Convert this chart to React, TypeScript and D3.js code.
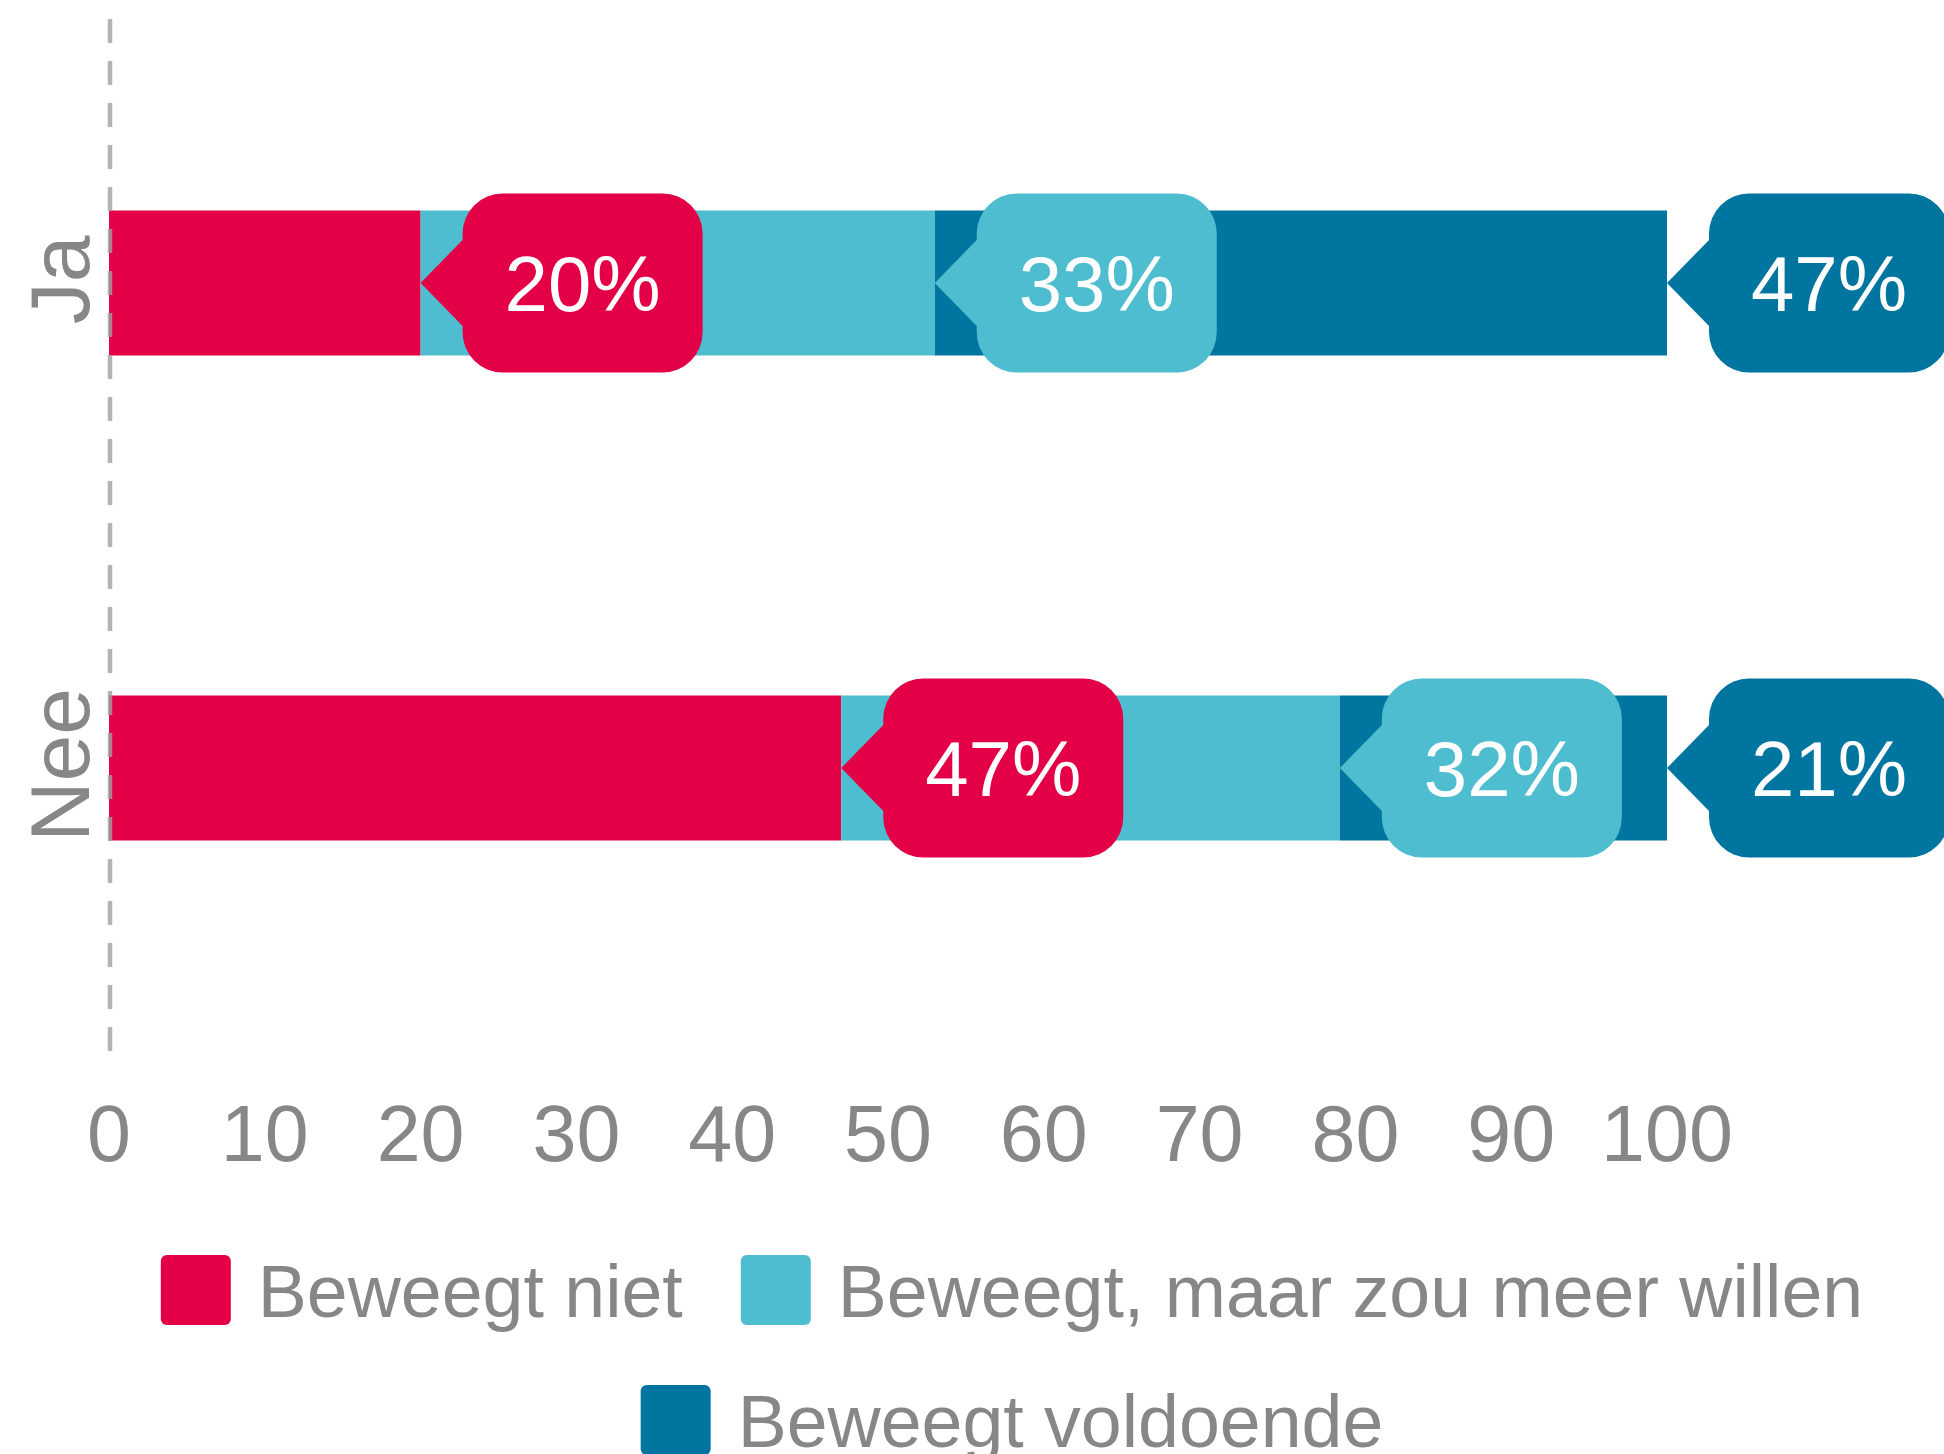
import * as d3 from 'd3';
import React, { useRef, useEffect } from 'react';

const categories = ['Ja', 'Nee'];
const seriesNames = ['Beweegt niet', 'Beweegt, maar zou meer willen', 'Beweegt voldoende'];
const beweegtNiet = [20, 47];
const meerWillen = [33, 32];
const voldoende = [47, 21];
const xTicks = [0, 10, 20, 30, 40, 50, 60, 70, 80, 90, 100];
const colors = ['#E30046', '#4EBDCF', '#0075A0'];

const W = 1944;
const H = 1454;
const FONT = '"Liberation Sans", Arial, sans-serif';

const App = () => {
  const ref = useRef<SVGSVGElement>(null);

  useEffect(() => {
    draw();
  }, []);

  const draw = () => {
    const svg = d3.select(ref.current);
    svg.selectAll('*').remove();

    const keys = ['niet', 'meer', 'vold'];
    const rows = categories.map((c, i) => ({
      cat: c,
      niet: beweegtNiet[i],
      meer: meerWillen[i],
      vold: voldoende[i],
    }));
    const stacked = d3.stack<any>().keys(keys)(rows);

    // scales
    const xScale = d3.scaleLinear().domain([0, 100]).range([109, 1667]);
    const yScale = d3.scalePoint<string>().domain(categories).range([283, 768]);
    const barH = 145;

    // bars
    stacked.forEach((layer, si) => {
      svg.append('g')
        .selectAll('rect')
        .data(layer)
        .enter()
        .append('rect')
        .attr('x', d => xScale(d[0]))
        .attr('y', d => (yScale(d.data.cat) as number) - barH / 2)
        .attr('width', d => xScale(d[1]) - xScale(d[0]))
        .attr('height', barH)
        .attr('fill', colors[si]);
    });

    // dashed zero line on top
    svg.append('line')
      .attr('x1', xScale(0) + 1)
      .attr('x2', xScale(0) + 1)
      .attr('y1', 19)
      .attr('y2', 1054)
      .attr('stroke', '#a0a0a0')
      .attr('stroke-opacity', 0.8)
      .attr('stroke-width', 4.5)
      .attr('stroke-dasharray', '24 18');

    // callouts
    const arrowW = 42;
    const arrowH = 43;
    const boxW = 240;
    const boxH = 179;
    const r = 40;
    const callout = (tx: number, cy: number) => {
      const x0 = tx + arrowW;
      const x1 = x0 + boxW;
      const y0 = cy - boxH / 2;
      const y1 = cy + boxH / 2;
      return `M${tx},${cy} L${x0},${cy - arrowH} L${x0},${y0 + r} ` +
        `A${r},${r} 0 0 1 ${x0 + r},${y0} L${x1 - r},${y0} ` +
        `A${r},${r} 0 0 1 ${x1},${y0 + r} L${x1},${y1 - r} ` +
        `A${r},${r} 0 0 1 ${x1 - r},${y1} L${x0 + r},${y1} ` +
        `A${r},${r} 0 0 1 ${x0},${y1 - r} L${x0},${cy + arrowH} Z`;
    };

    stacked.forEach((layer, si) => {
      const g = svg.append('g');
      layer.forEach(d => {
        const tx = xScale(d[1]);
        const cy = yScale(d.data.cat) as number;
        g.append('path')
          .attr('d', callout(tx, cy))
          .attr('fill', colors[si]);
        g.append('text')
          .attr('x', tx + arrowW + boxW / 2)
          .attr('y', cy + 28)
          .attr('text-anchor', 'middle')
          .attr('font-family', FONT)
          .attr('font-size', 78)
          .attr('fill', '#ffffff')
          .text(`${d[1] - d[0]}%`);
      });
    });

    // category labels
    svg.append('g')
      .selectAll('text')
      .data(categories)
      .enter()
      .append('text')
      .attr('transform', d => `translate(89, ${(yScale(d) as number) - 3}) rotate(-90)`)
      .attr('text-anchor', 'middle')
      .attr('font-family', FONT)
      .attr('font-size', 84)
      .attr('fill', '#878787')
      .text(d => d);

    // x tick labels
    svg.append('g')
      .selectAll('text')
      .data(xTicks)
      .enter()
      .append('text')
      .attr('x', d => xScale(d))
      .attr('y', 1161)
      .attr('text-anchor', 'middle')
      .attr('font-family', FONT)
      .attr('font-size', 79)
      .attr('fill', '#878787')
      .text(d => d);

    // legend
    const sq = 70;
    const gapText = 27;
    const gapItem = 58;
    const centerX = 1012;
    const legendRows = [
      { items: [0, 1], top: 1255 },
      { items: [2], top: 1385 },
    ];
    legendRows.forEach(row => {
      const g = svg.append('g');
      const widths: number[] = [];
      const texts = row.items.map(i => {
        const t = g.append('text')
          .attr('y', row.top + 62)
          .attr('font-family', FONT)
          .attr('font-size', 73.5)
          .attr('fill', '#878787')
          .text(seriesNames[i]);
        widths.push((t.node() as SVGTextElement).getComputedTextLength());
        return t;
      });
      const total = d3.sum(widths) + row.items.length * (sq + gapText) + (row.items.length - 1) * gapItem;
      let x = centerX - total / 2;
      row.items.forEach((i, k) => {
        g.append('rect')
          .attr('x', x)
          .attr('y', row.top)
          .attr('width', sq)
          .attr('height', sq)
          .attr('rx', 6)
          .attr('fill', colors[i]);
        texts[k].attr('x', x + sq + gapText);
        x += sq + gapText + widths[k] + gapItem;
      });
    });
  };

  return (
    <div style={{ position: 'absolute', left: 0, top: 0, width: W, height: H, overflow: 'hidden', background: '#fff' }}>
      <svg ref={ref} width={W} height={H} style={{ display: 'block' }}></svg>
    </div>
  );
};

export default App;
